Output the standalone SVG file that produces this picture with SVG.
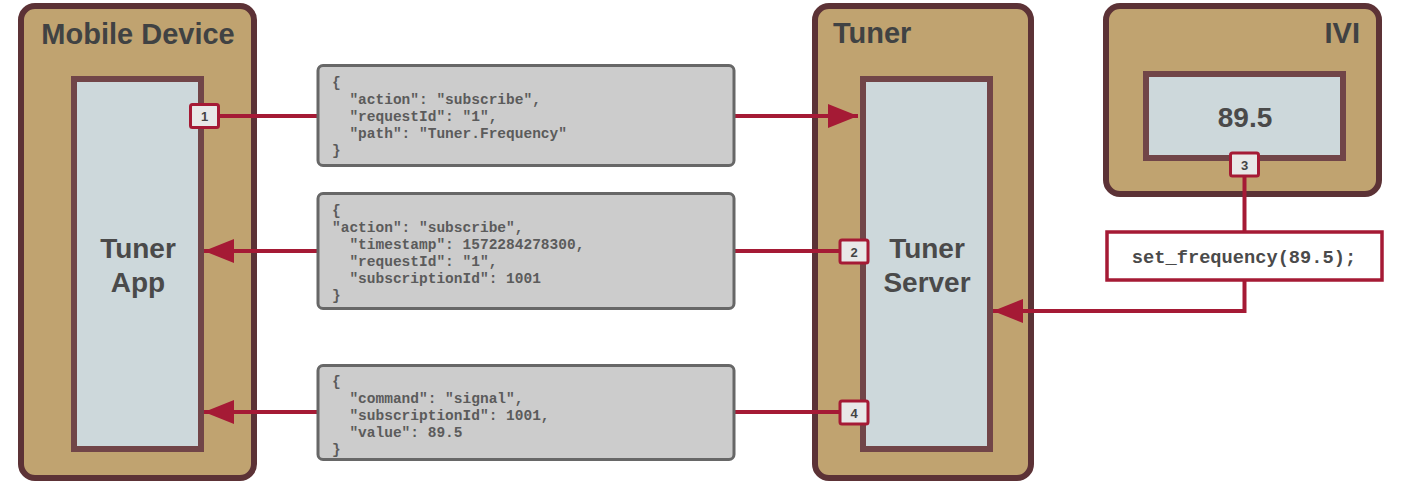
<svg xmlns="http://www.w3.org/2000/svg" width="1403" height="487" viewBox="0 0 1403 487">
<defs>
<style>
.outer{fill:#c0a370;stroke:#5c3236;stroke-width:6}
.inner{fill:#cdd8db;stroke:#714548;stroke-width:6}
.title{font-family:"Liberation Sans",Arial,sans-serif;font-weight:bold;font-size:29px;fill:#404243}
.label{font-family:"Liberation Sans",Arial,sans-serif;font-weight:bold;font-size:28px;fill:#4a4a4a;text-anchor:middle}
.json{fill:#cccccc;stroke:#676767;stroke-width:3}
.code{font-family:"Liberation Mono","Courier New",monospace;font-weight:bold;font-size:14.5px;fill:#5b5b5b;white-space:pre}
.badge{fill:#e8e8e8;stroke:#a51a35;stroke-width:3}
.num{font-family:"Liberation Sans",Arial,sans-serif;font-weight:bold;font-size:13px;fill:#444;text-anchor:middle}
.wire{fill:none;stroke:#a51a35;stroke-width:4}
.fn{fill:#ffffff;stroke:#a51a35;stroke-width:3.5}
.fntext{font-family:"Liberation Mono","Courier New",monospace;font-weight:bold;font-size:18.7px;fill:#4a4a4a;text-anchor:middle}
</style>
<marker id="arr" markerUnits="userSpaceOnUse" markerWidth="30" markerHeight="24" refX="30" refY="12" orient="auto">
<path d="M0,0 L30,12 L0,24 Z" fill="#a51a35"/>
</marker>
</defs>

<g id="mobile-device">
<rect class="outer" x="21" y="6" width="233" height="472" rx="14"/>
<text class="title" x="138" y="44" text-anchor="middle">Mobile Device</text>
</g>
<g id="tuner-app">
<rect class="inner" x="74" y="79" width="127" height="370"/>
<text class="label" x="138" y="258">Tuner</text>
<text class="label" x="138" y="292">App</text>
</g>

<g id="tuner">
<rect class="outer" x="815" y="6" width="216" height="472" rx="14"/>
<text class="title" x="833" y="43">Tuner</text>
</g>
<g id="tuner-server">
<rect class="inner" x="863" y="79" width="127" height="370"/>
<text class="label" x="927" y="258">Tuner</text>
<text class="label" x="927" y="292">Server</text>
</g>

<g id="ivi">
<rect class="outer" x="1106" y="6" width="273" height="188" rx="14"/>
<text class="title" x="1360" y="43" text-anchor="end">IVI</text>
</g>
<g id="ivi-display">
<rect class="inner" x="1146" y="74" width="197" height="84"/>
<text class="label" x="1245" y="127">89.5</text>
</g>

<g id="connectors">
<path class="wire" d="M219,116 H318"/>
<path class="wire" d="M735,116 H858" marker-end="url(#arr)"/>
<path class="wire" d="M839,251 H735"/>
<path class="wire" d="M318,251 H204" marker-end="url(#arr)"/>
<path class="wire" d="M839,412 H735"/>
<path class="wire" d="M318,412 H204" marker-end="url(#arr)"/>
<path class="wire" d="M1244.5,176 V232"/>
<path class="wire" d="M1244.5,280 V311 H993" marker-end="url(#arr)"/>
</g>

<g id="msg-subscribe">
<rect class="json" x="318" y="65.5" width="416" height="100" rx="5"/>
<text class="code" x="332" y="87">{</text>
<text class="code" x="332" y="104">  "action": "subscribe",</text>
<text class="code" x="332" y="121">  "requestId": "1",</text>
<text class="code" x="332" y="138">  "path": "Tuner.Frequency"</text>
<text class="code" x="332" y="155">}</text>
</g>

<g id="msg-subscribe-response">
<rect class="json" x="318" y="193.5" width="416" height="115" rx="5"/>
<text class="code" x="332" y="215">{</text>
<text class="code" x="332" y="232">"action": "subscribe",</text>
<text class="code" x="332" y="249">  "timestamp": 1572284278300,</text>
<text class="code" x="332" y="266">  "requestId": "1",</text>
<text class="code" x="332" y="283">  "subscriptionId": 1001</text>
<text class="code" x="332" y="300">}</text>
</g>

<g id="msg-signal">
<rect class="json" x="318" y="365.5" width="416" height="94" rx="5"/>
<text class="code" x="332" y="386">{</text>
<text class="code" x="332" y="403">  "command": "signal",</text>
<text class="code" x="332" y="420">  "subscriptionId": 1001,</text>
<text class="code" x="332" y="437">  "value": 89.5</text>
<text class="code" x="332" y="454">}</text>
</g>

<g id="set-frequency">
<rect class="fn" x="1107" y="232" width="275" height="48"/>
<text class="fntext" x="1244" y="263">set_frequency(89.5);</text>
</g>

<g id="badge-1">
<rect class="badge" x="190.5" y="104.5" width="28" height="23" rx="2"/>
<text class="num" x="204.5" y="121">1</text>
</g>
<g id="badge-2">
<rect class="badge" x="840" y="240" width="28" height="23" rx="2"/>
<text class="num" x="854" y="256.5">2</text>
</g>
<g id="badge-3">
<rect class="badge" x="1230.5" y="153" width="28" height="23" rx="2"/>
<text class="num" x="1244.5" y="169.5">3</text>
</g>
<g id="badge-4">
<rect class="badge" x="840" y="401" width="28" height="23" rx="2"/>
<text class="num" x="854" y="417.5">4</text>
</g>
</svg>
